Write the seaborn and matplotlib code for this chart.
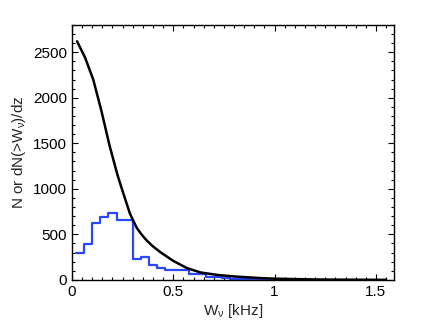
import numpy as np
import pandas as pd
import matplotlib
matplotlib.use('Agg')
import matplotlib.pyplot as plt
import seaborn as sns
from matplotlib.ticker import MultipleLocator, FuncFormatter

# cumulative curve dN(>W)/dz (black)
cum_w = [0.025, 0.065, 0.105, 0.145, 0.185, 0.225, 0.255, 0.287, 0.32, 0.345,
         0.37, 0.40, 0.436, 0.50, 0.568, 0.634, 0.716, 0.80, 0.93, 1.00,
         1.10, 1.20, 1.30, 1.40, 1.55]
cum_n = [2620, 2440, 2200, 1860, 1480, 1150, 940, 723, 570, 495,
         430, 368, 305, 209, 129, 82, 55, 38, 20, 14,
         9, 5, 3, 2, 1]

# histogram N (blue), left bin edges
hist_edges = [0.02, 0.06, 0.10, 0.14, 0.18, 0.22, 0.26, 0.30, 0.34, 0.38,
              0.42, 0.46, 0.50, 0.54, 0.58, 0.62, 0.66, 0.70, 0.74, 0.78,
              0.82, 0.86, 0.90, 0.94, 0.98, 1.02]
hist_n = [300, 390, 620, 690, 740, 660, 660, 230, 253, 165,
          129, 110, 110, 110, 70, 70, 33, 30, 22, 15,
          10, 6, 4, 2, 1, 1]

df_cum = pd.DataFrame({'w': cum_w, 'n': cum_n})
df_hist = pd.DataFrame({'w': hist_edges, 'n': hist_n})

sns.set_style('ticks')
plt.rcParams['font.family'] = ['Liberation Sans', 'DejaVu Sans']
plt.rcParams['mathtext.fontset'] = 'custom'
plt.rcParams['mathtext.rm'] = 'Liberation Sans'
plt.rcParams['mathtext.it'] = 'Liberation Sans:italic'

fig = plt.figure(figsize=(4.36, 3.27), dpi=100)
ax = fig.add_axes([0.165, 0.144, 0.739, 0.780])

sns.lineplot(x='w', y='n', data=df_hist, ax=ax, color='#2a46ff', lw=1.6,
             drawstyle='steps-post', estimator=None)
sns.lineplot(x='w', y='n', data=df_cum, ax=ax, color='black', lw=1.8,
             estimator=None)

ax.set_xlim(0, 1.59)
ax.set_ylim(0, 2800)
ax.xaxis.set_major_locator(MultipleLocator(0.5))
ax.xaxis.set_minor_locator(MultipleLocator(0.05))
ax.yaxis.set_major_locator(MultipleLocator(500))
ax.yaxis.set_minor_locator(MultipleLocator(100))
ax.xaxis.set_major_formatter(FuncFormatter(lambda v, p: '%g' % v))
ax.tick_params(which='both', direction='in', top=True, right=True,
               labelsize=11, width=0.8, colors='black')
ax.tick_params(which='major', length=4)
ax.tick_params(which='minor', length=2)
for s in ax.spines.values():
    s.set_linewidth(1.0)
    s.set_color('black')

ax.set_xlabel(r'W$_\mathregular{\nu}$ [kHz]', fontsize=11, labelpad=2)
ax.set_ylabel(r'N or dN(>W$_\mathregular{\nu}$)/dz', fontsize=11, labelpad=4)

fig.savefig('out.png', dpi=100)
